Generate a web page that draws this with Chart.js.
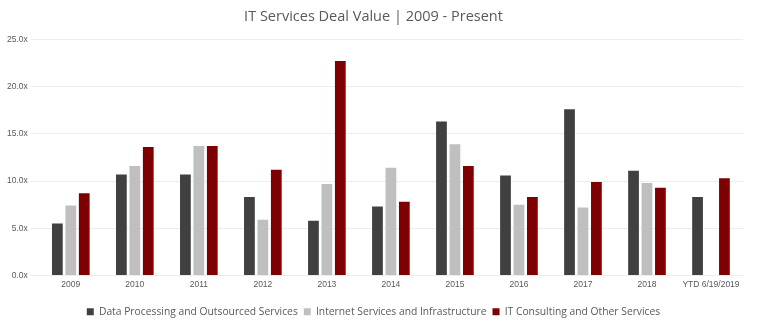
<!DOCTYPE html>
<html><head><meta charset="utf-8">
<script src="https://cdn.jsdelivr.net/npm/chart.js@4/dist/chart.umd.min.js"></script>
<style>html,body{margin:0;padding:0;background:#fff}#wrap{width:768px;height:333px}</style>
</head><body><div id="wrap"><canvas id="c" width="768" height="333"></canvas></div>
<script>
const categories = ["2009","2010","2011","2012","2013","2014","2015","2016","2017","2018","YTD 6/19/2019"];
const dataProcessing = [5.5,10.7,10.7,8.3,5.8,7.3,16.3,10.6,17.6,11.1,8.3];
const internetServices = [7.4,11.6,13.7,5.9,9.7,11.4,13.9,7.5,7.2,9.8,null];
const itConsulting = [8.7,13.6,13.7,11.2,22.7,7.8,11.6,8.3,9.9,9.3,10.3];
const seriesNames = ["Data Processing and Outsourced Services","Internet Services and Infrastructure","IT Consulting and Other Services"];
const yTicks = [0,5,10,15,20,25];

new Chart(document.getElementById('c'), {
  type: 'bar',
  data: {
    labels: categories,
    datasets: [
      {label: seriesNames[0], data: dataProcessing, backgroundColor: '#404040'},
      {label: seriesNames[1], data: internetServices, backgroundColor: '#bfbfbf'},
      {label: seriesNames[2], data: itConsulting, backgroundColor: '#7f0000'}
    ]
  },
  options: {
    responsive: false,
    animation: false,
    datasets: {bar: {categoryPercentage: 0.63, barPercentage: 0.8}},
    layout: {padding: {left: 4, right: 25, top: 8, bottom: 6}},
    plugins: {
      title: {display: true, text: 'IT Services Deal Value | 2009 - Present', color: '#595959',
        font: {family: 'Open Sans', size: 14.5, weight: 'normal'}, padding: {top: 0, bottom: 14}},
      legend: {position: 'bottom', labels: {color: '#595959', font: {family: 'Open Sans', size: 10.3},
        boxWidth: 7, boxHeight: 7, padding: 6}},
      tooltip: {enabled: false}
    },
    scales: {
      x: {grid: {display: false}, border: {display: false},
        afterFit: (ax) => { ax.height += 15; },
        ticks: {color: '#595959', font: {family: 'Liberation Sans', size: 8.5}, padding: -4}},
      y: {min: 0, max: 25, grid: {color: '#ececec'}, border: {display: false},
        afterBuildTicks: (ax) => { ax.ticks = yTicks.map(v => ({value: v})); },
        ticks: {color: '#595959', font: {family: 'Liberation Sans', size: 8.5}, padding: 3,
          callback: (v) => Number(v).toFixed(1) + 'x'}}
    }
  }
});
</script></body></html>
